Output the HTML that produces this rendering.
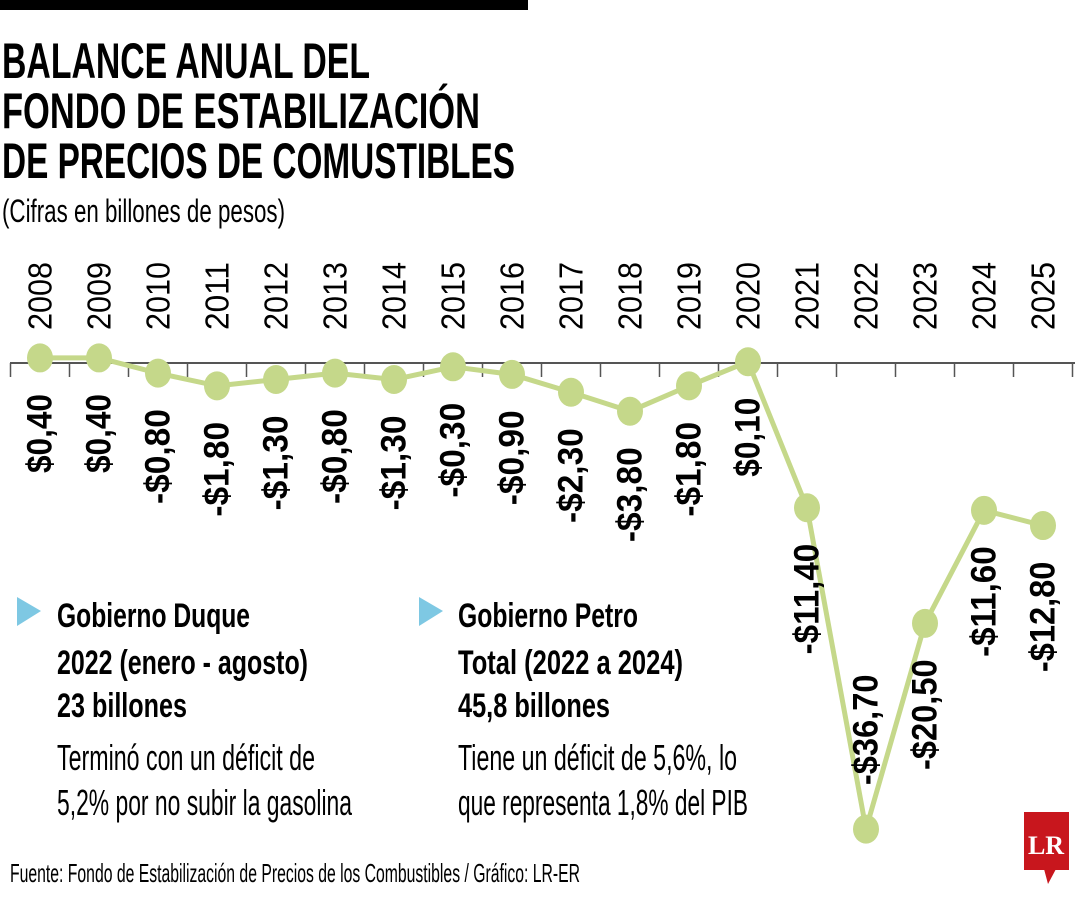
<!DOCTYPE html>
<html><head><meta charset="utf-8"><style>
html,body{margin:0;padding:0;background:#fff;width:1080px;height:900px;overflow:hidden}
svg{display:block;font-family:"Liberation Sans",sans-serif}
</style></head><body>
<svg id="chart" width="1080" height="900" viewBox="0 0 1080 900">
<rect x="0" y="0" width="528" height="10" fill="#000"/>
<g font-weight="bold" font-size="50" fill="#000">
<text x="2" y="78" textLength="368" lengthAdjust="spacingAndGlyphs">BALANCE ANUAL DEL</text>
<text x="2" y="128" textLength="478" lengthAdjust="spacingAndGlyphs">FONDO DE ESTABILIZACIÓN</text>
<text x="2" y="178" textLength="513" lengthAdjust="spacingAndGlyphs">DE PRECIOS DE COMUSTIBLES</text>
</g>
<text x="2" y="222" font-size="32" textLength="283" lengthAdjust="spacingAndGlyphs">(Cifras en billones de pesos)</text>
<g id="plot"></g>
<g>
<polygon points="17,597 41,611 17,626" fill="#7ec8e3"/>
<g font-weight="bold" font-size="34">
<text x="57" y="627" textLength="193" lengthAdjust="spacingAndGlyphs">Gobierno Duque</text>
<text x="57" y="674" textLength="251" lengthAdjust="spacingAndGlyphs">2022 (enero - agosto)</text>
<text x="57" y="717" textLength="130" lengthAdjust="spacingAndGlyphs">23 billones</text>
</g>
<g font-size="36">
<text x="57" y="770" textLength="258" lengthAdjust="spacingAndGlyphs">Terminó con un déficit de</text>
<text x="57" y="815" textLength="295" lengthAdjust="spacingAndGlyphs">5,2% por no subir la gasolina</text>
</g></g>
<g>
<polygon points="419,597 443,611 419,626" fill="#7ec8e3"/>
<g font-weight="bold" font-size="34">
<text x="458" y="627" textLength="180" lengthAdjust="spacingAndGlyphs">Gobierno Petro</text>
<text x="458" y="674" textLength="225" lengthAdjust="spacingAndGlyphs">Total (2022 a 2024)</text>
<text x="458" y="717" textLength="152" lengthAdjust="spacingAndGlyphs">45,8 billones</text>
</g>
<g font-size="36">
<text x="458" y="770" textLength="279" lengthAdjust="spacingAndGlyphs">Tiene un déficit de 5,6%, lo</text>
<text x="458" y="815" textLength="290" lengthAdjust="spacingAndGlyphs">que representa 1,8% del PIB</text>
</g></g>
<text x="10" y="882" font-size="26" textLength="570" lengthAdjust="spacingAndGlyphs">Fuente: Fondo de Estabilización de Precios de los Combustibles / Gráfico: LR-ER</text>
<g>
<rect x="1024" y="812" width="45" height="58" fill="#c8161d"/>
<polygon points="1044,869 1056,869 1048,884" fill="#c8161d"/>
<text x="1046" y="854" text-anchor="middle" font-family="Liberation Serif,serif" font-weight="bold" font-size="26" fill="#fff">LR</text>
</g>
</svg>
<script>
const years=["2008","2009","2010","2011","2012","2013","2014","2015","2016","2017","2018","2019","2020","2021","2022","2023","2024","2025"];
const values=[0.4,0.4,-0.8,-1.8,-1.3,-0.8,-1.3,-0.3,-0.9,-2.3,-3.8,-1.8,0.1,-11.4,-36.7,-20.5,-11.6,-12.8];
const valueLabels=["$0,40","$0,40","-$0,80","-$1,80","-$1,30","-$0,80","-$1,30","-$0,30","-$0,90","-$2,30","-$3,80","-$1,80","$0,10","-$11,40","-$36,70","-$20,50","-$11,60","-$12,80"];
const NS="http://www.w3.org/2000/svg";
const g=document.getElementById('plot');
function xs(i){return 40+i*59.0;}
function ys(v){return 363-v*12.7;}
function mk(t,a){const e=document.createElementNS(NS,t);for(const k in a)e.setAttribute(k,a[k]);g.appendChild(e);return e;}
const axis=mk('line',{x1:10,y1:363,x2:1075,y2:363,stroke:'#555','stroke-width':2});


for(let i=0;i<=years.length;i++){
 const tx=Math.min(xs(i)-29.5,1075);
 const t=mk('line',{x1:tx,y1:363,x2:tx,y2:377,stroke:'#555','stroke-width':1.5});
 
 
}
years.forEach((y,i)=>{
 const cx=xs(i);
 const t=mk('text',{x:cx,y:330,'font-size':33,'dominant-baseline':'central',transform:`rotate(-90 ${cx} 330)`,textLength:68,lengthAdjust:'spacingAndGlyphs'});
 t.textContent=y;
 
 
});
const pts=values.map((v,i)=>xs(i)+','+ys(v)).join(' ');
const line=mk('polyline',{points:pts,fill:'none',stroke:'#c5d88a','stroke-width':5,'stroke-linejoin':'round'});


values.forEach((v,i)=>{
 const c=mk('ellipse',{cx:xs(i),cy:ys(v),rx:13,ry:14.5,fill:'#c5d88a'});
 
 
});
valueLabels.forEach((s,i)=>{
 const cx=xs(i),py=ys(values[i]);
 const len=s.length*15.8;
 let ty,anchor;
 if(values[i]<-30){ty=py-44;anchor='start';}else{ty=Math.max(py,358)+36;anchor='end';}
 const t=mk('text',{x:cx,y:ty,'font-size':35,'font-weight':'bold','dominant-baseline':'central','text-anchor':anchor,transform:`rotate(-90 ${cx} ${ty})`,textLength:len,lengthAdjust:'spacingAndGlyphs'});
 t.textContent=s;
 
 
});
</script>
</body></html>
